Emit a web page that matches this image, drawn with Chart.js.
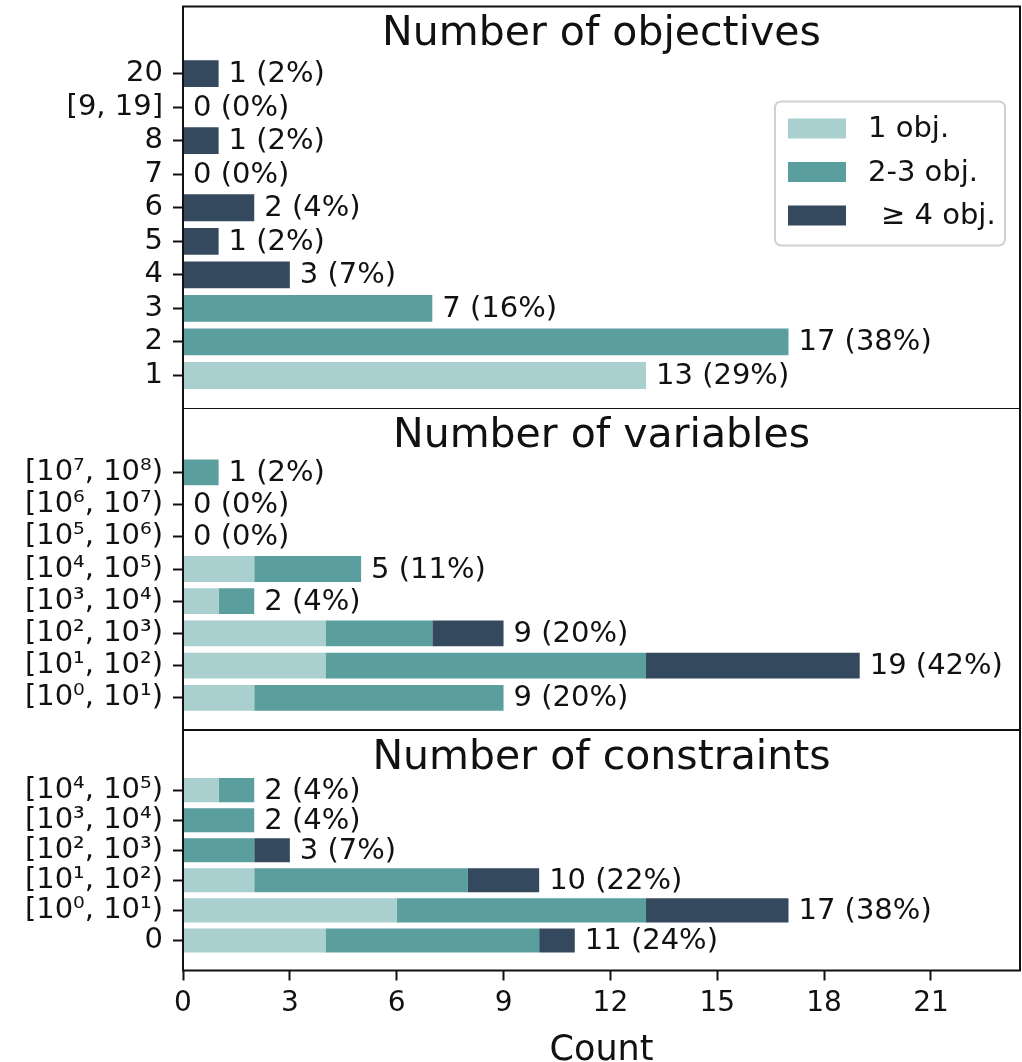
<!DOCTYPE html>
<html>
<head>
<meta charset="utf-8">
<script src="https://cdn.jsdelivr.net/npm/chart.js@4.4.0/dist/chart.umd.min.js"></script>
<style>
  body { margin: 0; background: #fff; width: 1022px; height: 1062px; overflow: hidden; position: relative; }
  .panel { position: absolute; left: 0; width: 1022px; }
</style>
</head>
<body>
<div class="panel" style="top:0;height:409px"><canvas id="objChart"></canvas></div>
<div class="panel" style="top:408px;height:322px"><canvas id="varChart"></canvas></div>
<div class="panel" style="top:730px;height:332px"><canvas id="conChart"></canvas></div>
<script>
const FONT = '"DejaVu Sans", "Liberation Sans", sans-serif';

const seriesNames = ["1 obj.", "2-3 obj.", "\u2265 4 obj."];
const seriesColors = ["#a9cfcf", "#5a9e9e", "#34495e"];

// number of objectives (bottom to top)
const objLabels = ["1", "2", "3", "4", "5", "6", "7", "8", "[9, 19]", "20"];
const objOne = [13, 0, 0, 0, 0, 0, 0, 0, 0, 0];
const objTwoThree = [0, 17, 7, 0, 0, 0, 0, 0, 0, 0];
const objFourPlus = [0, 0, 0, 3, 1, 2, 0, 1, 0, 1];

// number of variables
const varLabels = ["[10\u2070, 10\u00b9)", "[10\u00b9, 10\u00b2)", "[10\u00b2, 10\u00b3)", "[10\u00b3, 10\u2074)",
                   "[10\u2074, 10\u2075)", "[10\u2075, 10\u2076)", "[10\u2076, 10\u2077)", "[10\u2077, 10\u2078)"];
const varOne = [2, 4, 4, 1, 2, 0, 0, 0];
const varTwoThree = [7, 9, 3, 1, 3, 0, 0, 1];
const varFourPlus = [0, 6, 2, 0, 0, 0, 0, 0];

// number of constraints
const conLabels = ["0", "[10\u2070, 10\u00b9)", "[10\u00b9, 10\u00b2)", "[10\u00b2, 10\u00b3)", "[10\u00b3, 10\u2074)", "[10\u2074, 10\u2075)"];
const conOne = [4, 6, 2, 0, 0, 1];
const conTwoThree = [6, 7, 6, 2, 2, 1];
const conFourPlus = [1, 4, 2, 1, 0, 0];

const countMax = 23.5;
const countStep = 3;

const panelDecor = {
  id: "panelDecor",
  afterDraw(chart, args, o) {
    const { ctx, chartArea: a } = chart;
    const x = chart.scales.x, y = chart.scales.y;
    ctx.save();
    ctx.strokeStyle = "#111";
    ctx.lineWidth = 2;
    ctx.strokeRect(a.left, a.top, a.right - a.left, a.bottom - a.top);

    ctx.fillStyle = "#111";
    ctx.font = "41px " + FONT;
    ctx.textAlign = "center";
    ctx.textBaseline = "middle";
    ctx.fillText(o.title, (a.left + a.right) / 2, a.top + 28);

    // totals with share of all problems
    ctx.font = "29px " + FONT;
    ctx.textAlign = "left";
    o.totals.forEach((t, i) => {
      const pct = Math.round(100 * t / o.grand);
      ctx.fillText(t + " (" + pct + "%)", x.getPixelForValue(t) + 10, y.getPixelForValue(i) + 1);
    });

    if (o.legend) {
      const bx = a.right - 245, by = a.top + 95, bw = 230, bh = 144;
      ctx.beginPath();
      ctx.roundRect(bx, by, bw, bh, 6);
      ctx.fillStyle = "rgba(255,255,255,0.8)";
      ctx.fill();
      ctx.strokeStyle = "#d0d0d0";
      ctx.lineWidth = 2;
      ctx.stroke();
      seriesNames.forEach((name, k) => {
        const cy = by + 27 + k * 43.5;
        ctx.fillStyle = seriesColors[k];
        ctx.fillRect(bx + 13, cy - 10, 58, 20);
        ctx.fillStyle = "#111";
        ctx.fillText(name, bx + (k === 2 ? 106 : 93), cy + 1);
      });
    }
    ctx.restore();
  }
};

function makePanel(id, title, labels, one, twoThree, fourPlus, cfg) {
  const parts = [one, twoThree, fourPlus];
  const totals = labels.map((_, i) => one[i] + twoThree[i] + fourPlus[i]);
  const grand = objOne.concat(objTwoThree, objFourPlus).reduce((s, v) => s + v, 0);

  const xScale = {
    type: "linear",
    min: 0,
    max: countMax,
    offset: false,
    stacked: true,
    display: cfg.showX,
    border: { display: false },
    grid: { offset: false, drawOnChartArea: false, drawTicks: true, tickLength: 10, tickWidth: 2, tickColor: "#111" },
    ticks: { stepSize: countStep, includeBounds: false, color: "#111", font: { family: FONT, size: 28 }, padding: 6 },
    title: { display: true, text: "Count", color: "#111", font: { family: FONT, size: 35 }, padding: { top: 2, bottom: -10 } }
  };
  if (cfg.showX) {
    xScale.afterFit = s => { s.height = 91.5; s.paddingLeft = 0; s.paddingRight = 0; };
  }

  return new Chart(document.getElementById(id), {
    type: "bar",
    data: {
      datasets: parts.map((arr, k) => ({
        label: seriesNames[k],
        data: arr.map((v, i) => ({ x: v, y: i })),
        backgroundColor: seriesColors[k],
        borderWidth: 0,
        categoryPercentage: 0.8,
        barPercentage: 1.0
      }))
    },
    options: {
      indexAxis: "y",
      responsive: true,
      maintainAspectRatio: false,
      animation: false,
      layout: { padding: { top: cfg.padTop, right: 2, bottom: 0, left: 0 } },
      plugins: {
        legend: { display: false },
        tooltip: { enabled: false },
        panelDecor: { title: title, totals: totals, grand: grand, legend: cfg.legend }
      },
      scales: {
        x: xScale,
        y: {
          type: "linear",
          min: cfg.yMin,
          max: cfg.yMax,
          offset: false,
          stacked: true,
          border: { display: false },
          afterBuildTicks: s => { s.ticks = labels.map((_, i) => ({ value: i })); },
          afterFit: s => { s.width = 183; s.paddingTop = 0; s.paddingBottom = 0; },
          grid: { offset: false, drawOnChartArea: false, drawTicks: true, tickLength: 10, tickWidth: 2, tickColor: "#111" },
          ticks: { autoSkip: false, callback: v => labels[v], color: "#111", font: { family: FONT, size: 29 }, padding: 10 }
        }
      }
    },
    plugins: [panelDecor]
  });
}

makePanel("objChart", "Number of objectives", objLabels, objOne, objTwoThree, objFourPlus,
  { yMin: -1, yMax: 11, showX: false, legend: true, padTop: 6.5 });
makePanel("varChart", "Number of variables", varLabels, varOne, varTwoThree, varFourPlus,
  { yMin: -1, yMax: 9, showX: false, legend: false, padTop: 0 });
makePanel("conChart", "Number of constraints", conLabels, conOne, conTwoThree, conFourPlus,
  { yMin: -1, yMax: 7, showX: true, legend: false, padTop: 0 });
</script>
</body>
</html>
